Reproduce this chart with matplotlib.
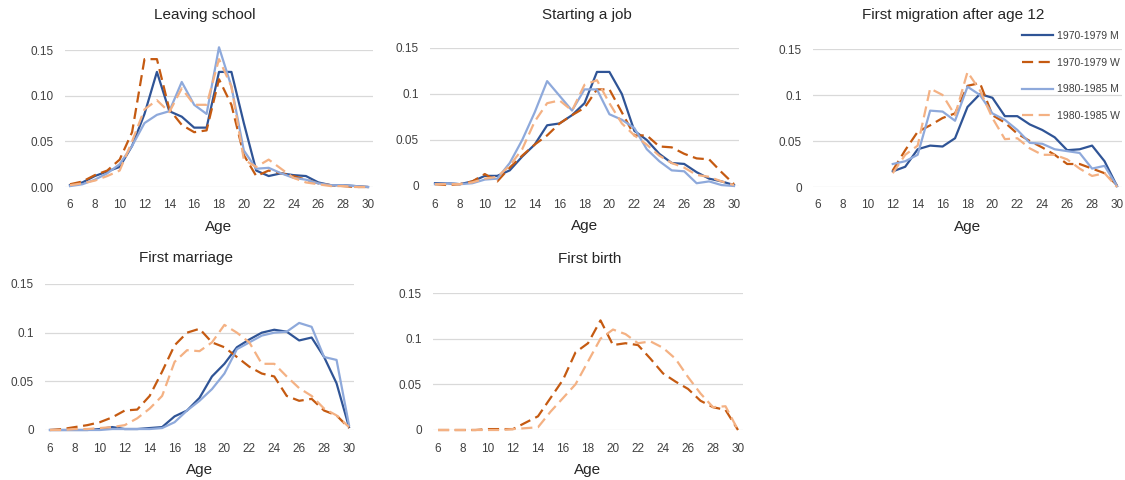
import numpy as np
import matplotlib.pyplot as plt

plt.rcParams['font.family'] = ['Liberation Sans', 'DejaVu Sans']

ages = list(range(6, 31))
nan = np.nan

series_names = ['1970-1979 M', '1970-1979 W', '1980-1985 M', '1980-1985 W']

# Leaving school
school_m70 = [0.002, 0.005, 0.012, 0.017, 0.022, 0.045, 0.080, 0.126, 0.083, 0.077, 0.065, 0.065,
              0.126, 0.126, 0.070, 0.018, 0.012, 0.015, 0.013, 0.012, 0.005, 0.002, 0.002, 0.001, 0.0]
school_w70 = [0.003, 0.006, 0.013, 0.018, 0.030, 0.060, 0.140, 0.140, 0.085, 0.068, 0.060, 0.062,
              0.118, 0.090, 0.035, 0.012, 0.018, 0.015, 0.012, 0.008, 0.004, 0.002, 0.001, 0.0, 0.0]
school_m80 = [0.001, 0.003, 0.008, 0.015, 0.025, 0.045, 0.070, 0.079, 0.083, 0.115, 0.090, 0.080,
              0.153, 0.110, 0.040, 0.020, 0.021, 0.015, 0.010, 0.008, 0.004, 0.002, 0.002, 0.001, 0.0]
school_w80 = [0.002, 0.004, 0.007, 0.012, 0.018, 0.050, 0.085, 0.095, 0.082, 0.108, 0.090, 0.090,
              0.140, 0.110, 0.030, 0.022, 0.030, 0.020, 0.010, 0.005, 0.003, 0.001, 0.001, 0.0, 0.0]

# Starting a job
job_m70 = [0.003, 0.003, 0.002, 0.005, 0.011, 0.011, 0.017, 0.032, 0.045, 0.066, 0.068, 0.077,
           0.090, 0.124, 0.124, 0.100, 0.060, 0.050, 0.035, 0.025, 0.024, 0.015, 0.008, 0.005, 0.001]
job_w70 = [0.002, 0.001, 0.002, 0.005, 0.013, 0.005, 0.020, 0.033, 0.045, 0.055, 0.068, 0.077,
           0.085, 0.105, 0.105, 0.080, 0.055, 0.055, 0.043, 0.042, 0.035, 0.030, 0.029, 0.015, 0.002]
job_m80 = [0.002, 0.003, 0.002, 0.003, 0.007, 0.008, 0.025, 0.050, 0.080, 0.114, 0.098, 0.082,
           0.105, 0.105, 0.078, 0.072, 0.063, 0.040, 0.027, 0.017, 0.016, 0.003, 0.005, 0.001, 0.0]
job_w80 = [0.002, 0.002, 0.002, 0.004, 0.008, 0.010, 0.022, 0.040, 0.070, 0.090, 0.093, 0.082,
           0.110, 0.115, 0.090, 0.068, 0.055, 0.045, 0.033, 0.025, 0.020, 0.012, 0.010, 0.005, 0.001]

# First migration after age 12 (no values before 12)
mig_m70 = [nan] * 6 + [0.017, 0.022, 0.041, 0.045, 0.044, 0.053, 0.087, 0.101, 0.097, 0.077,
                       0.077, 0.068, 0.062, 0.054, 0.040, 0.041, 0.045, 0.028, 0.001]
mig_w70 = [nan] * 6 + [0.018, 0.040, 0.060, 0.067, 0.075, 0.080, 0.110, 0.113, 0.078, 0.070,
                       0.058, 0.050, 0.043, 0.035, 0.025, 0.025, 0.020, 0.015, 0.002]
mig_m80 = [nan] * 6 + [0.025, 0.028, 0.035, 0.083, 0.082, 0.072, 0.109, 0.100, 0.080, 0.073,
                       0.062, 0.048, 0.047, 0.041, 0.039, 0.037, 0.020, 0.023, 0.001]
mig_w80 = [nan] * 6 + [0.015, 0.035, 0.045, 0.107, 0.100, 0.078, 0.125, 0.105, 0.075, 0.052,
                       0.053, 0.042, 0.035, 0.035, 0.030, 0.020, 0.012, 0.015, 0.0]

# First marriage
mar_m70 = [0.0, 0.0, 0.0, 0.0, 0.001, 0.003, 0.001, 0.001, 0.002, 0.003, 0.014, 0.020, 0.033,
           0.055, 0.068, 0.085, 0.093, 0.100, 0.103, 0.101, 0.092, 0.095, 0.075, 0.048, 0.003]
mar_w70 = [0.0, 0.001, 0.003, 0.005, 0.008, 0.013, 0.020, 0.021, 0.035, 0.060, 0.087, 0.100, 0.104,
           0.090, 0.085, 0.075, 0.065, 0.058, 0.055, 0.035, 0.030, 0.032, 0.020, 0.015, 0.002]
mar_m80 = [0.0, 0.0, 0.0, 0.0, 0.0, 0.001, 0.001, 0.001, 0.001, 0.002, 0.008, 0.020, 0.030,
           0.042, 0.058, 0.083, 0.090, 0.097, 0.100, 0.101, 0.110, 0.106, 0.075, 0.072, 0.005]
mar_w80 = [0.0, 0.0, 0.001, 0.001, 0.002, 0.003, 0.005, 0.012, 0.022, 0.035, 0.070, 0.082, 0.081,
           0.090, 0.108, 0.100, 0.090, 0.068, 0.068, 0.055, 0.043, 0.035, 0.022, 0.015, 0.003]

# First birth (women only)
birth_w70 = [0.0, 0.0, 0.0, 0.0, 0.001, 0.001, 0.001, 0.008, 0.015, 0.035, 0.055, 0.085, 0.095,
             0.120, 0.093, 0.095, 0.093, 0.078, 0.062, 0.053, 0.045, 0.032, 0.025, 0.022, 0.0]
birth_w80 = [0.0, 0.0, 0.0, 0.0, 0.0, 0.0, 0.001, 0.002, 0.003, 0.020, 0.035, 0.050, 0.075,
             0.100, 0.110, 0.105, 0.095, 0.097, 0.090, 0.078, 0.058, 0.040, 0.025, 0.026, 0.0]

styles = {
    '1970-1979 M': dict(color='#2F5496', ls='-'),
    '1970-1979 W': dict(color='#C55A11', ls=(0, (5, 2.5))),
    '1980-1985 M': dict(color='#8EA9DB', ls='-'),
    '1980-1985 W': dict(color='#F4B183', ls=(0, (5, 2.5))),
}

W, H = 1125, 480
fig = plt.figure(figsize=(W / 100, H / 100), dpi=100)


def add_panel(px6, px30, top, bottom, title, title_x, title_y, lines, ylabels):
    step = (px30 - px6) / 24
    left = px6 - 0.4 * step
    right = px30 + 0.4 * step
    ax = fig.add_axes([left / W, 1 - bottom / H, (right - left) / W, (bottom - top) / H])
    for name, vals in lines:
        ax.plot(ages, vals, lw=1.6, clip_on=False, label=name, **styles[name])
    ax.set_xlim(5.6, 30.4)
    ax.set_ylim(0, 0.15)
    ax.set_xticks(range(6, 31, 2))
    ax.set_yticks([0, 0.05, 0.10, 0.15])
    ax.set_yticklabels(ylabels)
    ax.grid(axis='y', color='#D9D9D9', lw=0.9)
    ax.set_axisbelow(True)
    for s in ax.spines.values():
        s.set_visible(False)
    ax.tick_params(length=0, labelsize=8.5, labelcolor='#404040', pad=8)
    ax.tick_params(axis='x', pad=9)
    ax.set_xlabel('Age', fontsize=11, color='#262626', labelpad=6)
    fig.text(title_x / W, 1 - title_y / H, title, ha='center', va='center',
             fontsize=11, color='#262626')
    return ax


labels_a = ['0.00', '0.05', '0.10', '0.15']
labels_b = ['0', '0.05', '0.1', '0.15']

add_panel(70, 368, 50, 187, 'Leaving school', 205, 15,
          [('1970-1979 M', school_m70), ('1970-1979 W', school_w70),
           ('1980-1985 M', school_m80), ('1980-1985 W', school_w80)], labels_a)
add_panel(435, 734, 48, 186, 'Starting a job', 587, 15,
          [('1970-1979 M', job_m70), ('1970-1979 W', job_w70),
           ('1980-1985 M', job_m80), ('1980-1985 W', job_w80)], labels_b)
ax3 = add_panel(818, 1117, 49, 187, 'First migration after age 12', 953, 15,
                [('1970-1979 M', mig_m70), ('1970-1979 W', mig_w70),
                 ('1980-1985 M', mig_m80), ('1980-1985 W', mig_w80)], labels_b)
add_panel(50, 349, 284, 430, 'First marriage', 186, 258,
          [('1970-1979 M', mar_m70), ('1970-1979 W', mar_w70),
           ('1980-1985 M', mar_m80), ('1980-1985 W', mar_w80)], labels_b)
add_panel(438, 738, 293, 430, 'First birth', 590, 259,
          [('1970-1979 W', birth_w70), ('1980-1985 W', birth_w80)], labels_b)

leg = ax3.legend(loc='upper left', bbox_to_anchor=(1022 / W, 1 - 31 / H),
                 bbox_transform=fig.transFigure, frameon=False, fontsize=7.5,
                 handlelength=3.0, handletextpad=0.35, labelspacing=1.6,
                 borderpad=0, borderaxespad=0)
for t in leg.get_texts():
    t.set_color('#404040')

fig.savefig('out.png', dpi=100, facecolor='white')
